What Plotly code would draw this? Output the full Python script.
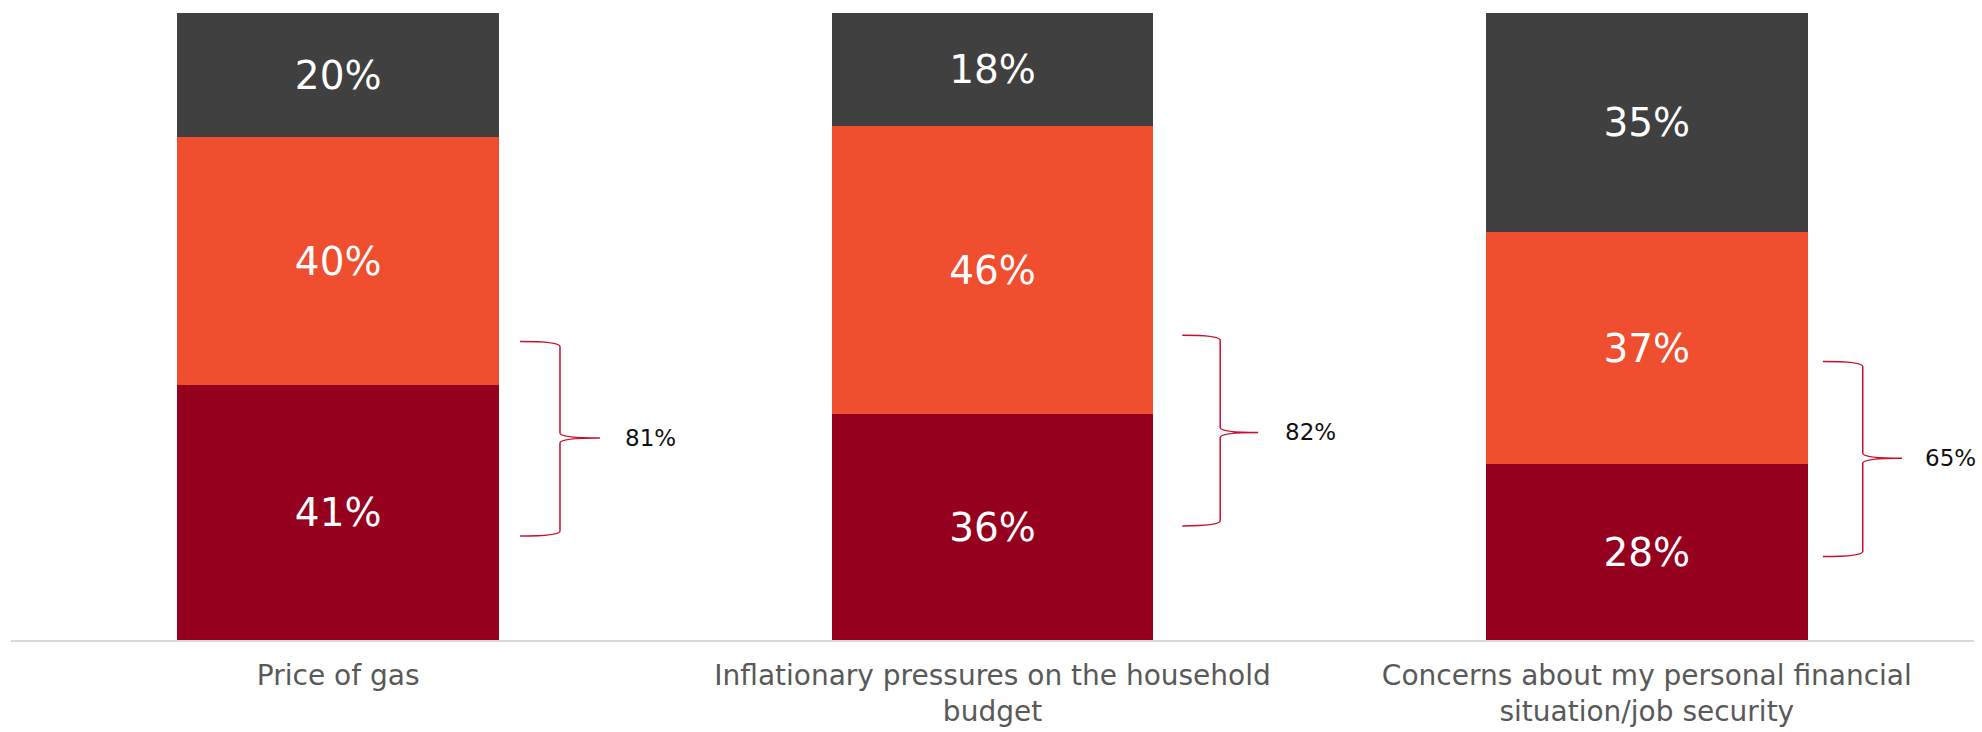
import plotly.graph_objects as go

categories = [
    "Price of gas",
    "Inflationary pressures on the household<br>budget",
    "Concerns about my personal financial<br>situation/job security",
]
very_concerned = [41, 36, 28]
somewhat_concerned = [40, 46, 37]
not_concerned = [20, 18, 35]
combined_labels = ["81%", "82%", "65%"]

series = [
    ("Very concerned", very_concerned, "#96001F"),
    ("Somewhat concerned", somewhat_concerned, "#EF4E2F"),
    ("Not concerned", not_concerned, "#404040"),
]

x_pos = list(range(len(categories)))
BAR_W = 0.492
FONT = "DejaVu Sans"

fig = go.Figure()
for name, vals, color in series:
    fig.add_trace(go.Bar(
        x=x_pos, y=vals, name=name, width=BAR_W,
        marker=dict(color=color, line=dict(width=0)),
        text=[f"{v}%" for v in vals], texttemplate="%{text}",
        textposition="inside", insidetextanchor="middle", textangle=0,
        textfont=dict(family=FONT, size=39, color="white"),
        hoverinfo="skip",
    ))

# brace geometry (offsets from category centre, y in percent of bar height)
brace_tip = [0.278, 0.290, 0.269]
brace_vert = [0.339, 0.348, 0.330]
brace_mid = [0.400, 0.406, 0.390]
brace_text = [0.435, 0.444, 0.422]
brace_top = [47.6, 48.6, 44.4]
brace_midy = [32.2, 33.1, 29.0]
brace_bot = [16.6, 18.2, 13.3]
d = 0.8

for i, xc in enumerate(x_pos):
    xt, xv, xm = xc + brace_tip[i], xc + brace_vert[i], xc + brace_mid[i]
    yt, ym, yb = brace_top[i], brace_midy[i], brace_bot[i]
    path = (f"M {xt},{yt} Q {xv},{yt} {xv},{yt-d} L {xv},{ym+d} "
            f"Q {xv},{ym} {xm},{ym} Q {xv},{ym} {xv},{ym-d} "
            f"L {xv},{yb+d} Q {xv},{yb} {xt},{yb}")
    fig.add_shape(type="path", path=path, xref="x", yref="y",
                  line=dict(color="#C8102E", width=1.5))
    fig.add_annotation(x=xc + brace_text[i], y=ym, text=combined_labels[i],
                       xref="x", yref="y", xanchor="left", yanchor="middle",
                       showarrow=False,
                       font=dict(family=FONT, size=23, color="#111111"))

fig.update_layout(
    barmode="stack", barnorm="percent",
    width=1982, height=732,
    margin=dict(l=11, r=8, t=13, b=92),
    plot_bgcolor="white", paper_bgcolor="white",
    showlegend=False,
    font=dict(family=FONT),
)
fig.update_xaxes(
    range=[-0.5, 2.5], tickmode="array", tickvals=x_pos, ticktext=categories,
    showgrid=False, zeroline=False, showline=True, linecolor="#D9D9D9",
    linewidth=2, ticks="", ticklabelstandoff=9, automargin=False,
    tickfont=dict(family=FONT, size=28, color="#595959"),
)
fig.update_yaxes(range=[0, 100], visible=False, showgrid=False, zeroline=False,
                 automargin=False)

fig.write_html("out.html")
